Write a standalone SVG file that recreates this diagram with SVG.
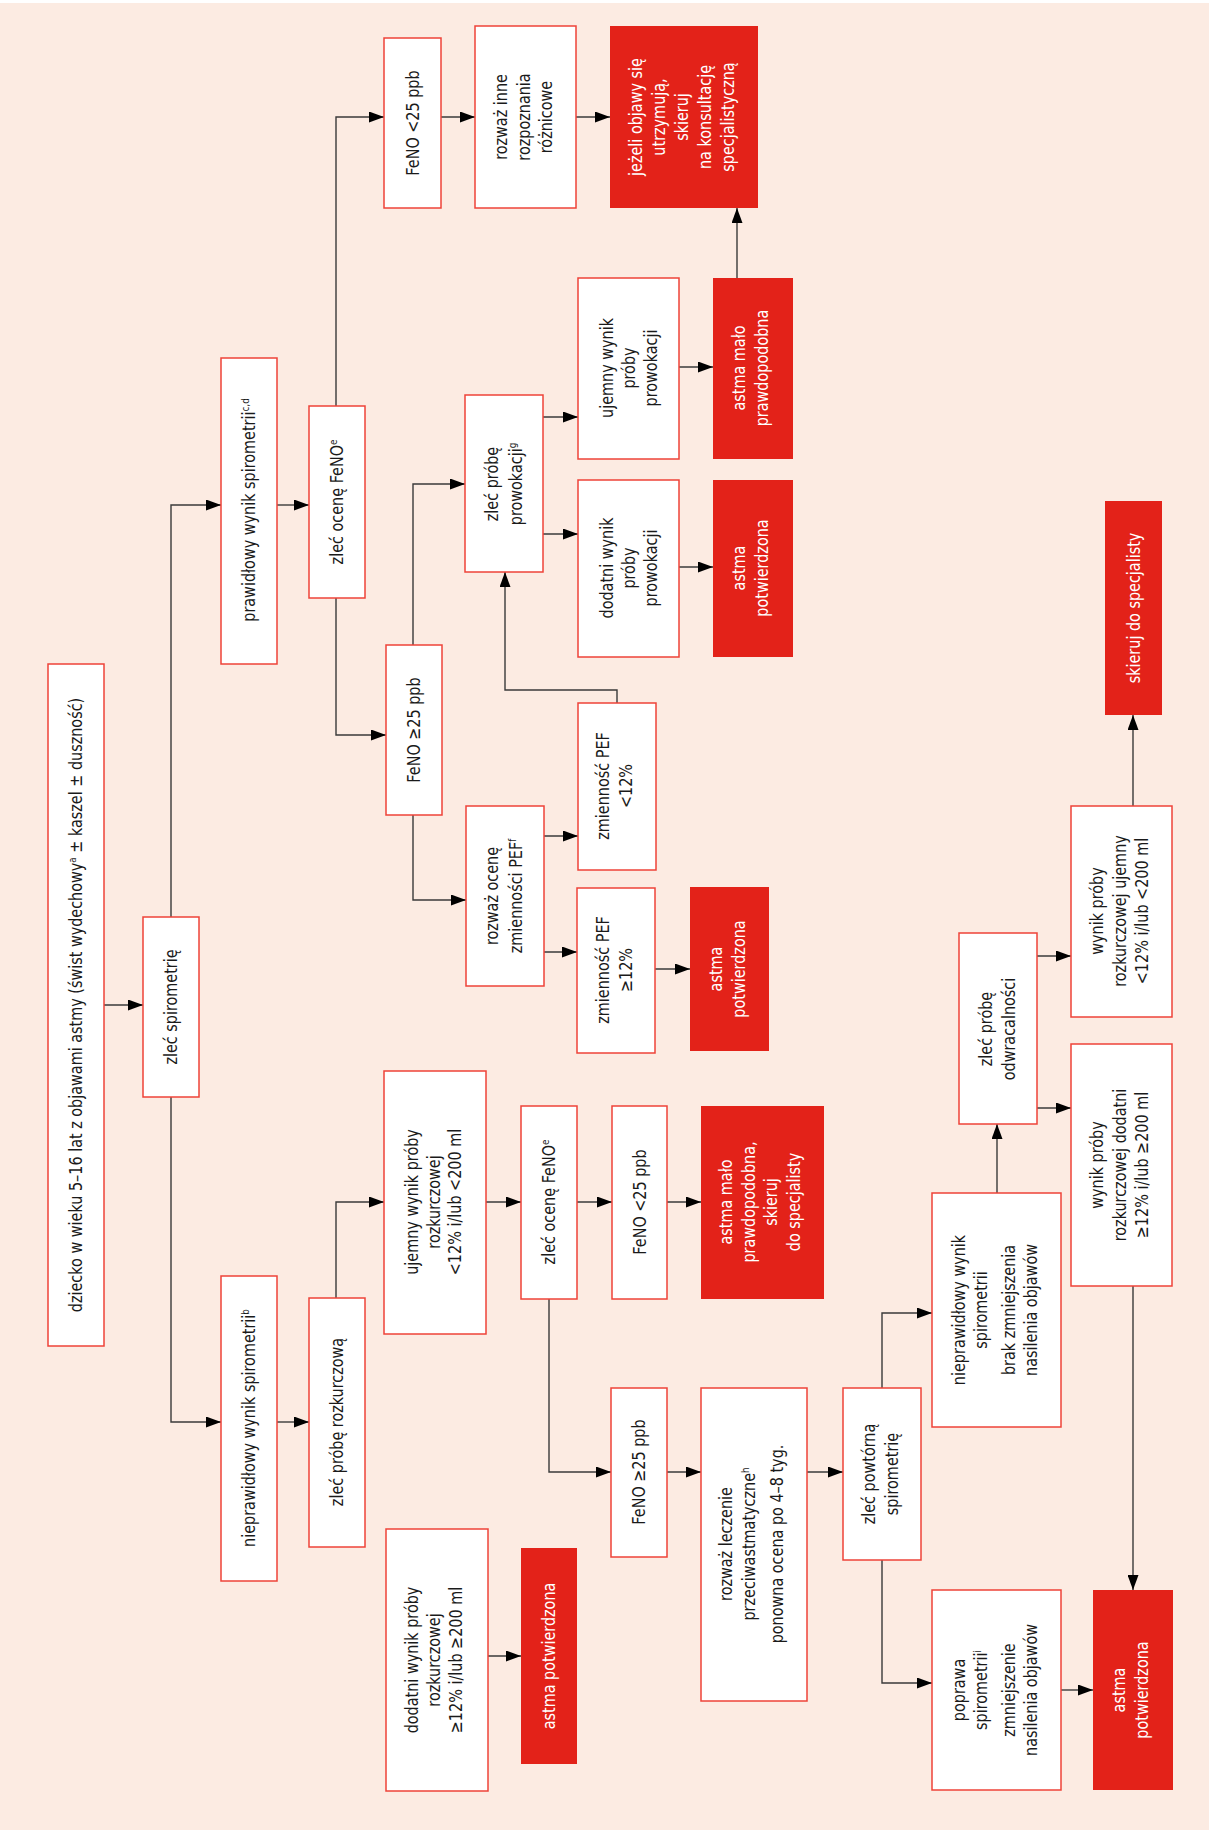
<svg xmlns="http://www.w3.org/2000/svg" width="1209" height="1833" viewBox="0 0 1209 1833">
<style>
.bg{fill:#FCEBE2}
.box{fill:#FFFFFF;stroke:#EE4338;stroke-width:1.5}
.red{fill:#E32219}
.t{font-family:"Liberation Sans Narrow","DejaVu Sans Condensed","Liberation Sans",sans-serif;font-size:18px;fill:#1A1A1A;text-anchor:middle}
.w{fill:#FFFFFF}
.sup{font-size:11px}
.conn path{fill:none;stroke:#3A3A3A;stroke-width:1.4;marker-end:url(#arr)}
</style>
<defs>
<marker id="arr" markerUnits="userSpaceOnUse" markerWidth="15" markerHeight="11" refX="15" refY="5.5" orient="auto" viewBox="0 0 15 11">
<path d="M0,0 L15,5.5 L0,11 z" fill="#000"/>
</marker>
</defs>
<rect x="0" y="0" width="1209" height="1833" fill="#FFFFFF"/>
<rect class="bg" x="0" y="3" width="1209" height="1827"/>

<g class="conn">
<path d="M104,1005 H143"/>
<path d="M171,917 V505 H221"/>
<path d="M171,1097 V1422 H221"/>
<path d="M277,505 H309"/>
<path d="M336,406 V117 H384"/>
<path d="M336,598 V735 H386"/>
<path d="M441,117 H475"/>
<path d="M576,117 H610"/>
<path d="M413,645 V484 H465"/>
<path d="M413,815 V900 H466"/>
<path d="M543,417 H578"/>
<path d="M543,534 H578"/>
<path d="M679,367 H713"/>
<path d="M679,567 H713"/>
<path d="M737,278 V208"/>
<path d="M544,836 H578"/>
<path d="M544,952 H577"/>
<path d="M617,703 V690 H505 V572"/>
<path d="M655,969 H690"/>
<path d="M277,1422 H309"/>
<path d="M336,1298 V1202 H384"/>
<path d="M486,1202 H521"/>
<path d="M577,1202 H612"/>
<path d="M667,1202 H701"/>
<path d="M549,1299 V1472 H611"/>
<path d="M667,1472 H701"/>
<path d="M807,1472 H843"/>
<path d="M882,1388 V1313 H932"/>
<path d="M882,1560 V1683 H932"/>
<path d="M1061,1690 H1093"/>
<path d="M997,1193 V1124"/>
<path d="M1037,956 H1071"/>
<path d="M1037,1108 H1071"/>
<path d="M1133,806 V715"/>
<path d="M1133,1286 V1590"/>
<path d="M488,1656 H521"/>
</g>

<g id="n-dziecko"><rect class="box" x="48" y="664" width="56" height="682"/>
<text class="t" transform="translate(0,1005) rotate(-90) scale(0.89,1)"><tspan x="0" y="82">dziecko w wieku 5–16 lat z objawami astmy (świst wydechowy<tspan class="sup" baseline-shift="super">a</tspan> ± kaszel ± duszność)</tspan></text></g>

<g id="n-spiro"><rect class="box" x="143" y="917" width="56" height="180"/>
<text class="t" transform="translate(0,1007) rotate(-90) scale(0.89,1)"><tspan x="0" y="177">zleć spirometrię</tspan></text></g>

<g id="n-prawid"><rect class="box" x="221" y="358" width="56" height="306"/>
<text class="t" transform="translate(0,510) rotate(-90) scale(0.89,1)"><tspan x="0" y="255">prawidłowy wynik spirometrii<tspan class="sup" baseline-shift="super">c,d</tspan></tspan></text></g>

<g id="n-nieprawid"><rect class="box" x="221" y="1276" width="56" height="305"/>
<text class="t" transform="translate(0,1428) rotate(-90) scale(0.89,1)"><tspan x="0" y="255">nieprawidłowy wynik spirometrii<tspan class="sup" baseline-shift="super">b</tspan></tspan></text></g>

<g id="n-feno1"><rect class="box" x="309" y="406" width="56" height="192"/>
<text class="t" transform="translate(0,502) rotate(-90) scale(0.89,1)"><tspan x="0" y="343">zleć ocenę FeNO<tspan class="sup" baseline-shift="super">e</tspan></tspan></text></g>

<g id="n-rozk"><rect class="box" x="309" y="1298" width="56" height="249"/>
<text class="t" transform="translate(0,1422) rotate(-90) scale(0.89,1)"><tspan x="0" y="343">zleć próbę rozkurczową</tspan></text></g>

<g id="n-fenolt1"><rect class="box" x="384" y="38" width="57" height="170"/>
<text class="t" transform="translate(0,123) rotate(-90) scale(0.89,1)"><tspan x="0" y="419">FeNO &lt;25 ppb</tspan></text></g>

<g id="n-fenoge1"><rect class="box" x="386" y="645" width="56" height="170"/>
<text class="t" transform="translate(0,730) rotate(-90) scale(0.89,1)"><tspan x="0" y="420">FeNO ≥25 ppb</tspan></text></g>

<g id="n-ujrozk"><rect class="box" x="384" y="1071" width="102" height="263"/>
<text class="t" transform="translate(0,1202) rotate(-90) scale(0.89,1)"><tspan x="0" y="418">ujemny wynik próby</tspan><tspan x="0" y="440">rozkurczowej</tspan><tspan x="0" y="461">&lt;12% i/lub &lt;200 ml</tspan></text></g>

<g id="n-dodrozk"><rect class="box" x="386" y="1529" width="102" height="262"/>
<text class="t" transform="translate(0,1660) rotate(-90) scale(0.89,1)"><tspan x="0" y="418">dodatni wynik próby</tspan><tspan x="0" y="440">rozkurczowej</tspan><tspan x="0" y="462">≥12% i/lub ≥200 ml</tspan></text></g>

<g id="n-rozwaz"><rect class="box" x="475" y="26" width="101" height="182"/>
<text class="t" transform="translate(0,117) rotate(-90) scale(0.89,1)"><tspan x="0" y="507">rozważ inne</tspan><tspan x="0" y="530">rozpoznania</tspan><tspan x="0" y="552">różnicowe</tspan></text></g>

<g id="n-prowok"><rect class="box" x="465" y="395" width="78" height="177"/>
<text class="t" transform="translate(0,484) rotate(-90) scale(0.89,1)"><tspan x="0" y="498">zleć próbę</tspan><tspan x="0" y="522">prowokacji<tspan class="sup" baseline-shift="super">g</tspan></tspan></text></g>

<g id="n-pef"><rect class="box" x="466" y="806" width="78" height="180"/>
<text class="t" transform="translate(0,896) rotate(-90) scale(0.89,1)"><tspan x="0" y="498">rozważ ocenę</tspan><tspan x="0" y="522">zmienności PEF<tspan class="sup" baseline-shift="super">f</tspan></tspan></text></g>

<g id="n-feno2"><rect class="box" x="521" y="1106" width="56" height="193"/>
<text class="t" transform="translate(0,1202) rotate(-90) scale(0.89,1)"><tspan x="0" y="555">zleć ocenę FeNO<tspan class="sup" baseline-shift="super">e</tspan></tspan></text></g>

<g id="n-ujprow"><rect class="box" x="578" y="278" width="101" height="181"/>
<text class="t" transform="translate(0,368) rotate(-90) scale(0.89,1)"><tspan x="0" y="613">ujemny wynik</tspan><tspan x="0" y="635">próby</tspan><tspan x="0" y="657">prowokacji</tspan></text></g>

<g id="n-dodprow"><rect class="box" x="578" y="480" width="101" height="177"/>
<text class="t" transform="translate(0,568) rotate(-90) scale(0.89,1)"><tspan x="0" y="613">dodatni wynik</tspan><tspan x="0" y="635">próby</tspan><tspan x="0" y="657">prowokacji</tspan></text></g>

<g id="n-pefl"><rect class="box" x="578" y="703" width="78" height="167"/>
<text class="t" transform="translate(0,786) rotate(-90) scale(0.89,1)"><tspan x="0" y="609">zmienność PEF</tspan><tspan x="0" y="632">&lt;12%</tspan></text></g>

<g id="n-pefg"><rect class="box" x="577" y="888" width="78" height="165"/>
<text class="t" transform="translate(0,970) rotate(-90) scale(0.89,1)"><tspan x="0" y="609">zmienność PEF</tspan><tspan x="0" y="632">≥12%</tspan></text></g>

<g id="n-fenolt2"><rect class="box" x="612" y="1106" width="55" height="193"/>
<text class="t" transform="translate(0,1202) rotate(-90) scale(0.89,1)"><tspan x="0" y="646">FeNO &lt;25 ppb</tspan></text></g>

<g id="n-fenoge2"><rect class="box" x="611" y="1388" width="56" height="169"/>
<text class="t" transform="translate(0,1472) rotate(-90) scale(0.89,1)"><tspan x="0" y="645">FeNO ≥25 ppb</tspan></text></g>

<g id="n-jezeli"><rect class="red" x="610" y="26" width="148" height="182"/>
<text class="t w" transform="translate(0,117) rotate(-90) scale(0.89,1)"><tspan x="0" y="642">jeżeli objawy się</tspan><tspan x="0" y="665">utrzymują,</tspan><tspan x="0" y="688">skieruj</tspan><tspan x="0" y="711">na konsultację</tspan><tspan x="0" y="734">specjalistyczną</tspan></text></g>

<g id="n-malo1"><rect class="red" x="713" y="278" width="80" height="181"/>
<text class="t w" transform="translate(0,368) rotate(-90) scale(0.89,1)"><tspan x="0" y="745">astma mało</tspan><tspan x="0" y="768">prawdopodobna</tspan></text></g>

<g id="n-potw1"><rect class="red" x="713" y="480" width="80" height="177"/>
<text class="t w" transform="translate(0,568) rotate(-90) scale(0.89,1)"><tspan x="0" y="745">astma</tspan><tspan x="0" y="768">potwierdzona</tspan></text></g>

<g id="n-potw2"><rect class="red" x="690" y="887" width="79" height="164"/>
<text class="t w" transform="translate(0,969) rotate(-90) scale(0.89,1)"><tspan x="0" y="722">astma</tspan><tspan x="0" y="745">potwierdzona</tspan></text></g>

<g id="n-malo2"><rect class="red" x="701" y="1106" width="123" height="193"/>
<text class="t w" transform="translate(0,1202) rotate(-90) scale(0.89,1)"><tspan x="0" y="732">astma mało</tspan><tspan x="0" y="755">prawdopodobna,</tspan><tspan x="0" y="777">skieruj</tspan><tspan x="0" y="800">do specjalisty</tspan></text></g>

<g id="n-leczenie"><rect class="box" x="701" y="1388" width="106" height="313"/>
<text class="t" transform="translate(0,1544) rotate(-90) scale(0.89,1)"><tspan x="0" y="732">rozważ leczenie</tspan><tspan x="0" y="755">przeciwastmatyczne<tspan class="sup" baseline-shift="super">h</tspan></tspan><tspan x="0" y="783">ponowna ocena po 4–8 tyg.</tspan></text></g>

<g id="n-potw3"><rect class="red" x="521" y="1548" width="56" height="216"/>
<text class="t w" transform="translate(0,1656) rotate(-90) scale(0.89,1)"><tspan x="0" y="555">astma potwierdzona</tspan></text></g>

<g id="n-powt"><rect class="box" x="843" y="1388" width="78" height="172"/>
<text class="t" transform="translate(0,1474) rotate(-90) scale(0.89,1)"><tspan x="0" y="875">zleć powtórną</tspan><tspan x="0" y="898">spirometrię</tspan></text></g>

<g id="n-brak"><rect class="box" x="932" y="1193" width="129" height="234"/>
<text class="t" transform="translate(0,1310) rotate(-90) scale(0.89,1)"><tspan x="0" y="965">nieprawidłowy wynik</tspan><tspan x="0" y="987">spirometrii</tspan><tspan x="0" y="1015">brak zmniejszenia</tspan><tspan x="0" y="1037">nasilenia objawów</tspan></text></g>

<g id="n-poprawa"><rect class="box" x="932" y="1590" width="129" height="200"/>
<text class="t" transform="translate(0,1690) rotate(-90) scale(0.89,1)"><tspan x="0" y="965">poprawa</tspan><tspan x="0" y="987">spirometrii<tspan class="sup" baseline-shift="super">i</tspan></tspan><tspan x="0" y="1015">zmniejszenie</tspan><tspan x="0" y="1037">nasilenia objawów</tspan></text></g>

<g id="n-odwr"><rect class="box" x="959" y="933" width="78" height="191"/>
<text class="t" transform="translate(0,1029) rotate(-90) scale(0.89,1)"><tspan x="0" y="992">zleć próbę</tspan><tspan x="0" y="1015">odwracalności</tspan></text></g>

<g id="n-wujem"><rect class="box" x="1071" y="806" width="101" height="211"/>
<text class="t" transform="translate(0,911) rotate(-90) scale(0.89,1)"><tspan x="0" y="1103">wynik próby</tspan><tspan x="0" y="1126">rozkurczowej ujemny</tspan><tspan x="0" y="1148">&lt;12% i/lub &lt;200 ml</tspan></text></g>

<g id="n-wdod"><rect class="box" x="1071" y="1044" width="101" height="242"/>
<text class="t" transform="translate(0,1165) rotate(-90) scale(0.89,1)"><tspan x="0" y="1103">wynik próby</tspan><tspan x="0" y="1126">rozkurczowej dodatni</tspan><tspan x="0" y="1148">≥12% i/lub ≥200 ml</tspan></text></g>

<g id="n-skieruj"><rect class="red" x="1105" y="501" width="57" height="214"/>
<text class="t w" transform="translate(0,608) rotate(-90) scale(0.89,1)"><tspan x="0" y="1140">skieruj do specjalisty</tspan></text></g>

<g id="n-potw4"><rect class="red" x="1093" y="1590" width="80" height="200"/>
<text class="t w" transform="translate(0,1690) rotate(-90) scale(0.89,1)"><tspan x="0" y="1125">astma</tspan><tspan x="0" y="1148">potwierdzona</tspan></text></g>
</svg>
